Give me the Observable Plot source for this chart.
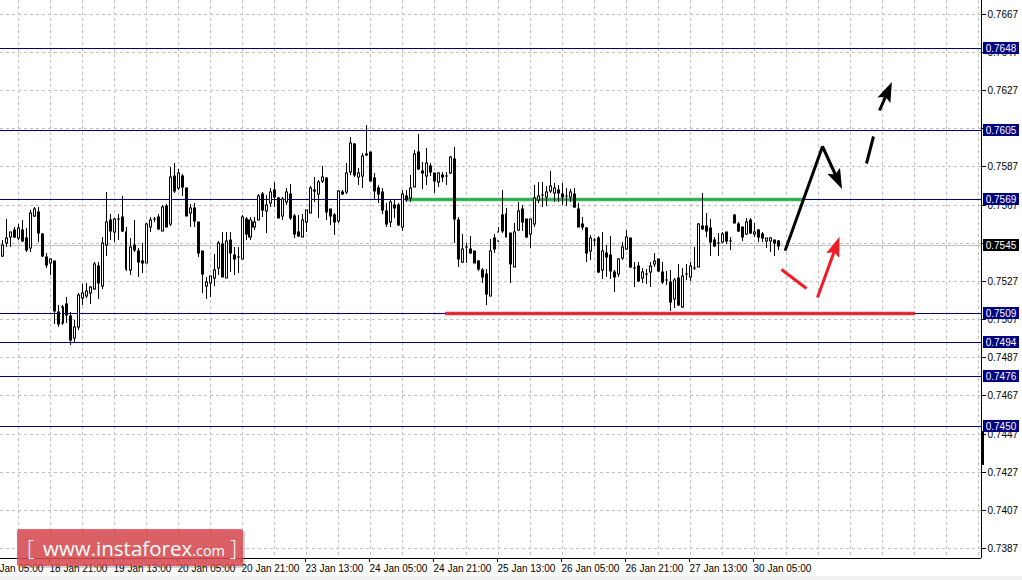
<!DOCTYPE html>
<html><head><meta charset="utf-8">
<script src="https://cdn.jsdelivr.net/npm/d3@7"></script>
<script src="https://cdn.jsdelivr.net/npm/@observablehq/plot@0.6"></script>
<style>
html,body{margin:0;padding:0;background:#fff;}
#chart{width:1022px;height:580px;overflow:hidden;}
svg{display:block}
</style></head><body><div id="chart"></div>
<script>
// ---- H1 candles (AUD/USD style), index = bar number from left ----
const opens = [
0.75392,0.75457,0.75492,0.75527,0.75483,0.75527,0.75483,0.75434,0.75602,0.75623,
0.75506,0.75383,0.75356,0.75364,0.75095,0.75041,0.75139,0.75076,0.74959,0.75017,
0.75172,0.75183,0.75195,0.75216,0.75338,0.75235,0.75446,0.75579,0.75514,0.75583,
0.75593,0.75514,0.75317,0.75448,0.75417,0.75364,0.75356,0.75544,0.75584,0.75593,
0.75523,0.75654,0.75556,0.75811,0.75745,0.75811,0.75745,0.75614,0.75640,0.75567,
0.75417,0.75235,0.75247,0.75273,0.75326,0.75453,0.75273,0.75474,0.75396,0.75383,
0.75373,0.75584,0.75492,0.75544,0.75579,0.75715,0.75626,0.75666,0.75736,0.75693,
0.75602,0.75675,0.75715,0.75602,0.75518,0.75492,0.75567,0.75614,0.75733,0.75713,
0.75785,0.75797,0.75635,0.75605,0.75574,0.75727,0.75724,0.75832,0.75975,0.75803,
0.75811,0.75921,0.75933,0.75797,0.75745,0.75727,0.75626,0.75567,0.75658,0.75658,
0.75544,0.75705,0.75693,0.75754,0.75933,0.75836,0.75811,0.75864,0.75823,0.75776,
0.75815,0.75811,0.75823,0.75897,0.75579,0.75361,0.75436,0.75427,0.75417,0.75364,
0.75317,0.75296,0.75183,0.75425,0.75471,0.75523,0.75609,0.75509,0.75335,0.75527,
0.75635,0.75583,0.75504,0.75558,0.75684,0.75710,0.75701,0.75733,0.75722,0.75736,
0.75715,0.75705,0.75698,0.75715,0.75635,0.75558,0.75535,0.75417,0.75474,0.75483,
0.75317,0.75404,0.75396,0.75305,0.75294,0.75382,0.75425,0.75483,0.75326,0.75338,
0.75273,0.75296,0.75305,0.75347,0.75373,0.75305,0.75265,0.75256,0.75163,0.75273,
0.75125,0.75296,0.75282,0.75326,0.75335,0.75548,0.75548,0.75535,0.75474,0.75457,
0.75466,0.75514,0.75469,0.75605,0.75558,0.75541,0.75504,0.75579,0.75504,0.75527,
0.75506,0.75471,0.75471,0.75474,0.75471];
const highs = [
0.75474,0.75584,0.75518,0.75541,0.75558,0.75579,0.75535,0.75631,0.75645,0.75645,
0.75509,0.75404,0.75378,0.75364,0.75134,0.75134,0.75177,0.75099,0.75055,0.75195,
0.75242,0.75251,0.75235,0.75361,0.75361,0.75488,0.75727,0.75609,0.75588,0.75609,
0.75705,0.75544,0.75483,0.75579,0.75431,0.75457,0.75562,0.75593,0.75596,0.75609,
0.75658,0.75663,0.75858,0.75876,0.75844,0.75818,0.75745,0.75663,0.75666,0.75567,
0.75417,0.75282,0.75286,0.75399,0.75471,0.75518,0.75514,0.75518,0.75439,0.75439,
0.75605,0.75596,0.75593,0.75596,0.75715,0.75727,0.75710,0.75745,0.75780,0.75701,
0.75701,0.75745,0.75768,0.75609,0.75605,0.75609,0.75631,0.75759,0.75803,0.75789,
0.75864,0.75803,0.75635,0.75614,0.75736,0.75736,0.75876,0.76012,0.75981,0.75850,
0.75928,0.76077,0.75937,0.75823,0.75762,0.75745,0.75670,0.75684,0.75684,0.75670,
0.75736,0.75736,0.75815,0.75946,0.76030,0.75885,0.75954,0.75879,0.75827,0.75832,
0.75832,0.75832,0.75914,0.75963,0.75593,0.75506,0.75460,0.75495,0.75418,0.75370,
0.75326,0.75321,0.75478,0.75504,0.75544,0.75736,0.75644,0.75509,0.75562,0.75675,
0.75658,0.75583,0.75584,0.75762,0.75780,0.75780,0.75757,0.75837,0.75775,0.75762,
0.75771,0.75745,0.75740,0.75745,0.75666,0.75596,0.75541,0.75500,0.75483,0.75495,
0.75518,0.75448,0.75495,0.75317,0.75378,0.75466,0.75527,0.75486,0.75361,0.75361,
0.75329,0.75321,0.75361,0.75404,0.75373,0.75361,0.75312,0.75317,0.75273,0.75349,
0.75329,0.75349,0.75361,0.75439,0.75562,0.75719,0.75617,0.75583,0.75492,0.75509,
0.75518,0.75518,0.75488,0.75609,0.75570,0.75541,0.75588,0.75588,0.75562,0.75532,
0.75514,0.75486,0.75492,0.75474,0.75474];
const lows = [
0.75383,0.75439,0.75436,0.75483,0.75474,0.75466,0.75413,0.75413,0.75596,0.75466,
0.75383,0.75326,0.75291,0.75034,0.75020,0.75029,0.75038,0.74924,0.74942,0.75003,
0.75134,0.75169,0.75139,0.75212,0.75163,0.75216,0.75390,0.75474,0.75466,0.75474,
0.75518,0.75314,0.75291,0.75413,0.75282,0.75300,0.75352,0.75518,0.75567,0.75527,
0.75523,0.75541,0.75548,0.75722,0.75736,0.75705,0.75600,0.75544,0.75544,0.75387,
0.75195,0.75163,0.75174,0.75235,0.75291,0.75279,0.75273,0.75308,0.75291,0.75300,
0.75373,0.75474,0.75474,0.75527,0.75579,0.75596,0.75513,0.75645,0.75649,0.75588,
0.75579,0.75658,0.75579,0.75483,0.75492,0.75492,0.75518,0.75614,0.75675,0.75588,
0.75771,0.75579,0.75553,0.75500,0.75565,0.75710,0.75715,0.75815,0.75806,0.75762,
0.75745,0.75914,0.75783,0.75687,0.75666,0.75609,0.75544,0.75544,0.75588,0.75549,
0.75523,0.75675,0.75675,0.75754,0.75841,0.75741,0.75762,0.75810,0.75722,0.75754,
0.75780,0.75762,0.75820,0.75457,0.75335,0.75356,0.75356,0.75401,0.75352,0.75314,
0.75247,0.75134,0.75183,0.75404,0.75466,0.75509,0.75488,0.75247,0.75335,0.75521,
0.75521,0.75483,0.75434,0.75544,0.75666,0.75645,0.75652,0.75719,0.75675,0.75675,
0.75658,0.75652,0.75675,0.75640,0.75541,0.75527,0.75361,0.75370,0.75443,0.75300,
0.75268,0.75282,0.75268,0.75204,0.75282,0.75370,0.75422,0.75326,0.75226,0.75256,
0.75247,0.75244,0.75226,0.75335,0.75308,0.75244,0.75239,0.75104,0.75116,0.75130,
0.75116,0.75265,0.75260,0.75317,0.75335,0.75527,0.75492,0.75390,0.75439,0.75390,
0.75460,0.75453,0.75422,0.75562,0.75518,0.75471,0.75500,0.75506,0.75488,0.75466,
0.75462,0.75434,0.75413,0.75390,0.75422];
const closes = [
0.75448,0.75483,0.75514,0.75492,0.75535,0.75471,0.75422,0.75614,0.75635,0.75513,
0.75392,0.75343,0.75373,0.75102,0.75033,0.75125,0.75081,0.74950,0.75020,0.75186,
0.75195,0.75207,0.75226,0.75349,0.75247,0.75457,0.75567,0.75523,0.75583,0.75584,
0.75523,0.75322,0.75436,0.75422,0.75361,0.75356,0.75556,0.75579,0.75584,0.75532,
0.75645,0.75544,0.75803,0.75733,0.75823,0.75754,0.75602,0.75644,0.75576,0.75404,
0.75294,0.75253,0.75286,0.75317,0.75457,0.75282,0.75469,0.75404,0.75373,0.75383,
0.75593,0.75504,0.75579,0.75567,0.75703,0.75631,0.75658,0.75724,0.75701,0.75591,
0.75689,0.75727,0.75591,0.75504,0.75497,0.75579,0.75631,0.75745,0.75734,0.75776,
0.75806,0.75623,0.75602,0.75570,0.75733,0.75713,0.75823,0.75984,0.75815,0.75827,
0.75914,0.75923,0.75785,0.75733,0.75715,0.75631,0.75556,0.75672,0.75644,0.75553,
0.75715,0.75684,0.75745,0.75923,0.75844,0.75823,0.75876,0.75832,0.75785,0.75823,
0.75803,0.75811,0.75907,0.75583,0.75373,0.75425,0.75436,0.75404,0.75356,0.75322,
0.75282,0.75191,0.75417,0.75486,0.75514,0.75605,0.75492,0.75347,0.75514,0.75626,
0.75567,0.75492,0.75583,0.75693,0.75705,0.75710,0.75727,0.75757,0.75745,0.75722,
0.75701,0.75705,0.75727,0.75645,0.75544,0.75544,0.75404,0.75483,0.75474,0.75305,
0.75417,0.75383,0.75314,0.75282,0.75373,0.75436,0.75492,0.75335,0.75326,0.75261,
0.75305,0.75296,0.75338,0.75364,0.75314,0.75253,0.75265,0.75151,0.75265,0.75134,
0.75286,0.75296,0.75338,0.75329,0.75556,0.75532,0.75521,0.75466,0.75443,0.75457,
0.75504,0.75471,0.75469,0.75565,0.75521,0.75492,0.75567,0.75513,0.75518,0.75492,
0.75483,0.75483,0.75483,0.75457,0.75445];

// ---- axes ----
const timeTickBars = [-4,12,28,44,60,76,92,108,124,140,156,172,188];
const timeTickLabels = ["17 Jan 05:00","18 Jan 21:00","19 Jan 13:00","20 Jan 05:00","20 Jan 21:00",
  "23 Jan 13:00","24 Jan 05:00","24 Jan 21:00","25 Jan 13:00","26 Jan 05:00","26 Jan 21:00",
  "27 Jan 13:00","30 Jan 05:00"];
const gridBars = [4,12,20,28,36,44,52,60,68,76,84,92,100,108,116,124,132,140,148,156,164,172,180,188,196,204,212,220,228,236,244];
const priceTickLabels = ["0.7667","0.7647","0.7627","0.7607","0.7587","0.7567","0.7547","0.7527",
  "0.7507","0.7487","0.7467","0.7447","0.7427","0.7407","0.7387"];
const priceTickShift = -0.0001; // terminal rounds its axis values

// ---- levels ----
const levelPrices = [0.7648, 0.7605, 0.7569, 0.7509, 0.7494, 0.7476, 0.7450];
const levelLabels = ["0.7648","0.7605","0.7569","0.7509","0.7494","0.7476","0.7450"];
const bidPrice = 0.7545, bidLabel = "0.7545";
const resistance = [{price: 0.7569, from: 101.5, to: 200.25}];
const support = [{price: 0.7509, from: 110.75, to: 228.25}];

// ---- forecast drawings (bar, price) ----
const bullPath = [{bar:195.75, price:0.75427},{bar:204.9, price:0.75968},{bar:209.3, price:0.75771}];
const bullDash = [{bar1:216, p1:0.75878, bar2:217.8, p2:0.76019}];
const bullDashArrow = [{bar1:219.25, p1:0.76155, bar2:221.75, p2:0.76276}];
const bearDip = [{bar1:194.7, p1:0.75322, bar2:201, p2:0.75224}];
const bearDipArrow = [{bar1:203.7, p1:0.75177, bar2:208.8, p2:0.75465}];
const sideMarker = [{bar:244.75, p1:0.74474, p2:0.74296}];

const candles = opens.map((o, i) => ({i, o, h: highs[i], l: lows[i], c: closes[i],
  lo: Math.min(o, closes[i]), hi: Math.max(o, closes[i])}));
const bulls = candles.filter(d => d.c > d.o);

const tickPrices = priceTickLabels.map(s => +(+s + priceTickShift).toFixed(5));
const priceLabelMap = new Map(tickPrices.map((p, i) => [p, priceTickLabels[i]]));
const timeLabelMap = new Map(timeTickBars.map((b, i) => [b, timeTickLabels[i]]));

const yDomain = [0.738085, 0.767315];
const xDomain = [-0.5, 244.75];
const grid = "#c0c0c0";
const navy = "#000080";

const chart = Plot.plot({
  width: 1022, height: 580,
  marginLeft: 0, marginRight: 41, marginTop: 0, marginBottom: 22,
  style: {fontFamily: "'Liberation Sans', Arial, sans-serif", fontSize: "10px", background: "white", color: "black", overflow: "visible"},
  x: {type: "linear", domain: xDomain, round: true},
  y: {type: "linear", domain: yDomain, round: true},
  marks: [
    Plot.ruleY(tickPrices, {stroke: grid, strokeDasharray: "3,3"}),
    Plot.ruleX(gridBars, {stroke: grid, strokeDasharray: "3,3"}),
    Plot.ruleY([bidPrice], {stroke: grid}),
    Plot.ruleY(levelPrices, {stroke: navy}),
    Plot.ruleY(resistance, {y: "price", x1: "from", x2: "to", stroke: "#2fb14f", strokeWidth: 3.5, strokeOpacity: 0.95}),
    Plot.ruleY(support, {y: "price", x1: "from", x2: "to", stroke: "#e8252f", strokeWidth: 3.5, strokeOpacity: 0.95}),
    Plot.ruleX(candles, {x: "i", y1: "l", y2: "h", stroke: "black"}),
    Plot.rect(candles, {x1: d => d.i - 0.375, x2: d => d.i + 0.375, y1: "lo", y2: "hi", fill: "black", insetTop: -0.5, insetBottom: -0.5}),
    Plot.rect(bulls, {x1: d => d.i - 0.125, x2: d => d.i + 0.125, y1: "lo", y2: "hi", fill: "white", insetTop: 0.5, insetBottom: 0.5}),
    Plot.line(bullPath, {x: "bar", y: "price", stroke: "black", strokeWidth: 3, strokeLinejoin: "miter"}),
    Plot.link(bullDash, {x1: "bar1", y1: "p1", x2: "bar2", y2: "p2", stroke: "black", strokeWidth: 3}),
    Plot.link(bullDashArrow, {x1: "bar1", y1: "p1", x2: "bar2", y2: "p2", stroke: "black", strokeWidth: 3}),
    Plot.link(bearDip, {x1: "bar1", y1: "p1", x2: "bar2", y2: "p2", stroke: "#ee1c25", strokeWidth: 3}),
    Plot.link(bearDipArrow, {x1: "bar1", y1: "p1", x2: "bar2", y2: "p2", stroke: "#ee1c25", strokeWidth: 3}),
    Plot.ruleY([yDomain[0]], {stroke: "black"}),
    Plot.ruleX([xDomain[1]], {stroke: "black"}),
    Plot.ruleX(sideMarker, {x: "bar", y1: "p1", y2: "p2", stroke: "black", strokeWidth: 3, dx: 1}),
    Plot.axisY({anchor: "right", ticks: tickPrices, tickFormat: d => priceLabelMap.get(d), tickSize: 4, tickPadding: 2, label: null}),
    Plot.axisX({ticks: timeTickBars, tickFormat: d => timeLabelMap.get(d), tickSize: 4, tickPadding: 2, textAnchor: "start", dx: -1, label: null})
  ]
});

document.getElementById("chart").appendChild(chart);

const svg = d3.select(chart);
const yS = chart.scale("y");

// arrow heads
const defs = svg.append("defs");
[["head-black", "black"], ["head-red", "#ee1c25"]].forEach(([id, col]) => {
  defs.append("marker").attr("id", id).attr("viewBox", "0 -7 20 14")
    .attr("refX", 14).attr("refY", 0).attr("markerWidth", 20).attr("markerHeight", 14)
    .attr("markerUnits", "userSpaceOnUse").attr("orient", "auto")
    .append("path").attr("d", "M0,-7 L20,0 L0,7 L4,0 Z").attr("fill", col);
});
svg.selectAll('g[aria-label="line"] path').attr("marker-end", "url(#head-black)");
const linkGroups = svg.selectAll('g[aria-label="link"]').nodes();
d3.select(linkGroups[1]).selectAll("path").attr("marker-end", "url(#head-black)");
d3.select(linkGroups[3]).selectAll("path").attr("marker-end", "url(#head-red)");

// price labels on the right axis
const labelLayer = svg.append("g").attr("font-family", "'Liberation Sans', Arial, sans-serif").attr("font-size", 10);
function priceBox(price, text, fill) {
  const y = Math.round(yS.apply(price));
  labelLayer.append("rect").attr("x", 983).attr("y", y - 6).attr("width", 36).attr("height", 12).attr("fill", fill);
  labelLayer.append("text").attr("x", 1001).attr("y", y).attr("dy", "0.35em").attr("text-anchor", "middle")
    .attr("fill", "white").text(text);
}
levelPrices.forEach((p, i) => priceBox(p, levelLabels[i], navy));
priceBox(bidPrice, bidLabel, "black");

// bottom strip
svg.append("rect").attr("x", 0).attr("y", 576).attr("width", 1022).attr("height", 4).attr("fill", "#f0f0f0");

// watermark
const wm = svg.append("g");
wm.append("rect").attr("x", 19).attr("y", 531).attr("width", 226).attr("height", 37).attr("rx", 2).attr("fill", "#000").attr("opacity", 0.18);
wm.append("rect").attr("x", 17).attr("y", 529).attr("width", 226).attr("height", 37).attr("rx", 2).attr("fill", "#dc4c52").attr("opacity", 0.85);
const wt = wm.append("text").attr("x", 27).attr("y", 556).attr("fill", "white")
  .attr("text-anchor", "start").attr("font-family", "'Open Sans', sans-serif");
wt.append("tspan").attr("font-size", 22).attr("font-weight", 300).text("[");
wt.append("tspan").attr("font-size", 20.5).attr("dx", 9).text("www.instaforex");
wt.append("tspan").attr("font-size", 14.5).text(".com");
wt.append("tspan").attr("font-size", 22).attr("font-weight", 300).attr("dx", 5).text("]");
</script>
</body></html>
